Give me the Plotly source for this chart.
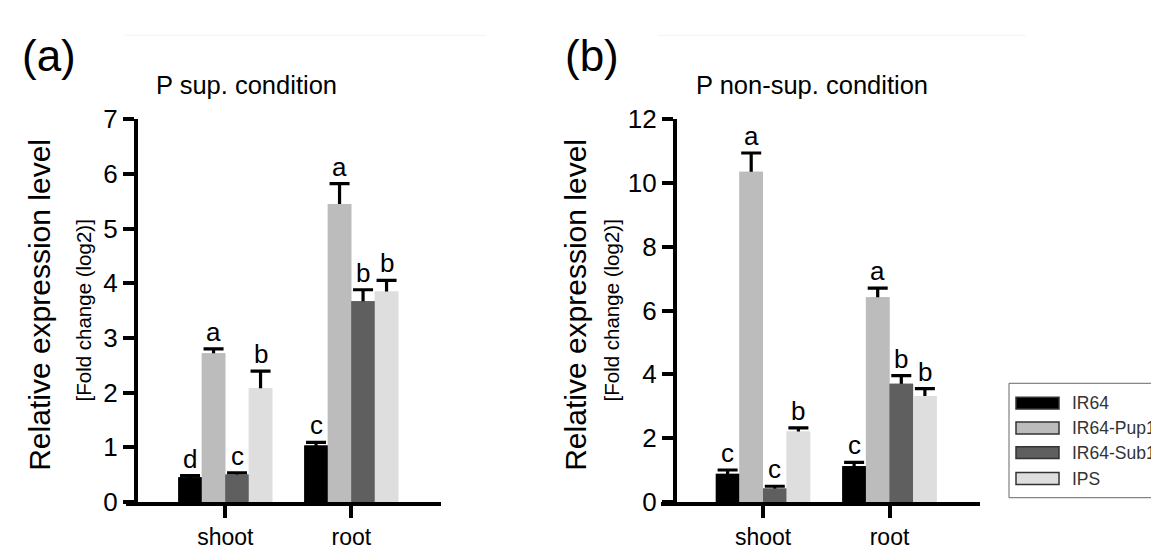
import plotly.graph_objects as go

# ---------------- data ----------------
categories = ["shoot", "root"]
genotypes = ["IR64", "IR64-Pup1", "IR64-Sub1", "IPS"]
colors = ["#000000", "#bcbcbc", "#5f5f5f", "#dedede"]

# (a) P sup. condition
sup_IR64 = [0.45, 1.03]
sup_Pup1 = [2.72, 5.45]
sup_Sub1 = [0.50, 3.67]
sup_IPS = [2.08, 3.85]
sup_err_IR64 = [0.03, 0.06]
sup_err_Pup1 = [0.08, 0.37]
sup_err_Sub1 = [0.03, 0.21]
sup_err_IPS = [0.31, 0.20]
sup_let_IR64 = ["d", "c"]
sup_let_Pup1 = ["a", "a"]
sup_let_Sub1 = ["c", "b"]
sup_let_IPS = ["b", "b"]

# (b) P non-sup. condition
non_IR64 = [0.88, 1.12]
non_Pup1 = [10.35, 6.42]
non_Sub1 = [0.42, 3.70]
non_IPS = [2.21, 3.32]
non_err_IR64 = [0.12, 0.12]
non_err_Pup1 = [0.59, 0.28]
non_err_Sub1 = [0.07, 0.26]
non_err_IPS = [0.11, 0.23]
non_let_IR64 = ["c", "c"]
non_let_Pup1 = ["a", "a"]
non_let_Sub1 = ["c", "b"]
non_let_IPS = ["b", "b"]

y_ticks_a = [0, 1, 2, 3, 4, 5, 6, 7]
y_ticks_b = [0, 2, 4, 6, 8, 10, 12]

panels = [
    dict(vals=[sup_IR64, sup_Pup1, sup_Sub1, sup_IPS],
         errs=[sup_err_IR64, sup_err_Pup1, sup_err_Sub1, sup_err_IPS],
         lets=[sup_let_IR64, sup_let_Pup1, sup_let_Sub1, sup_let_IPS],
         ticks=y_ticks_a, title="P sup. condition", tag="(a)"),
    dict(vals=[non_IR64, non_Pup1, non_Sub1, non_IPS],
         errs=[non_err_IR64, non_err_Pup1, non_err_Sub1, non_err_IPS],
         lets=[non_let_IR64, non_let_Pup1, non_let_Sub1, non_let_IPS],
         ticks=y_ticks_b, title="P non-sup. condition", tag="(b)"),
]

# ---------------- layout geometry (pixels) ----------------
W, H = 1159, 552
FONT = "Arial, Liberation Sans, sans-serif"
def px(x):
    return x / W
def py(y):
    return (H - y) / H

geo = [
    dict(xl=118, xr=433, yaxis_x=127.7, shoot=217.3, step=126.0,
         tag_x=12, title_x=146, big_x=32, small_x=75, line=(117, 478)),
    dict(xl=653, xr=972, yaxis_x=666.7, shoot=755.0, step=126.5,
         tag_x=555, title_x=686, big_x=568, small_x=603, line=(650, 1018)),
]
y_top, y_bot = 101.7, 506.4
bw = 0.1865  # bar width in category units
offsets = [-2 * bw, -bw, 0.0, bw]

fig = go.Figure()
annotations = []
shapes = []

for p, (panel, g) in enumerate(zip(panels, geo)):
    xa = "x" if p == 0 else "x2"
    ya = "y" if p == 0 else "y2"
    ymax = panel["ticks"][-1]
    shoe = 0.012 * ymax  # keeps the lower cap of the error bar inside the bar
    # bars with error bars
    for k in range(4):
        fig.add_trace(go.Bar(
            x=categories, y=panel["vals"][k], name=genotypes[k],
            marker=dict(color=colors[k], line=dict(width=0)),
            width=bw, offset=offsets[k], xaxis=xa, yaxis=ya, showlegend=False,
            error_y=dict(type="data", symmetric=False, array=panel["errs"][k],
                         arrayminus=[shoe] * len(categories),
                         color="#000000", thickness=3.2, width=10),
        ))
    # same bars on top, covering the lower cap
    for k in range(4):
        fig.add_trace(go.Bar(
            x=categories, y=panel["vals"][k], name=genotypes[k],
            marker=dict(color=colors[k], line=dict(width=0)),
            width=bw, offset=offsets[k], xaxis=xa, yaxis=ya, showlegend=False,
            hoverinfo="skip",
        ))
    # significance letters
    for k in range(4):
        for i in range(len(categories)):
            annotations.append(dict(
                x=i + offsets[k] + bw / 2,
                y=panel["vals"][k][i] + panel["errs"][k][i],
                xref=xa, yref=ya, text=panel["lets"][k][i], showarrow=False,
                yanchor="bottom", yshift=0,
                font=dict(family=FONT, size=26, color="#000000")))
    # panel tag and title
    annotations.append(dict(x=px(g["tag_x"]), y=py(34), xref="paper", yref="paper",
                            text=panel["tag"], showarrow=False, xanchor="left",
                            yanchor="middle", font=dict(family=FONT, size=44, color="#000")))
    annotations.append(dict(x=px(g["title_x"]), y=py(66), xref="paper", yref="paper",
                            text=panel["title"], showarrow=False, xanchor="left",
                            yanchor="middle", font=dict(family=FONT, size=25.5, color="#000")))
    # y-axis titles
    annotations.append(dict(x=px(g["big_x"]), y=py(298), xref="paper", yref="paper",
                            text="Relative expression level", textangle=-90, showarrow=False,
                            xanchor="center", yanchor="middle",
                            font=dict(family=FONT, size=30, color="#000")))
    annotations.append(dict(x=px(g["small_x"]), y=py(304), xref="paper", yref="paper",
                            text="[Fold change (log2)]", textangle=-90, showarrow=False,
                            xanchor="center", yanchor="middle",
                            font=dict(family=FONT, size=20.5, color="#000")))
    shapes.append(dict(type="line", xref="paper", yref="paper",
                       x0=px(g["line"][0]), x1=px(g["line"][1]), y0=py(13), y1=py(13),
                       line=dict(color="#f3f3f3", width=1)))

    # axes
    left = (g["xl"] - g["shoot"]) / g["step"]
    right = (g["xr"] - g["shoot"]) / g["step"]
    xkey = "xaxis" if p == 0 else "xaxis2"
    ykey = "yaxis" if p == 0 else "yaxis2"
    fig.layout[xkey] = dict(
        domain=[px(g["xl"]), px(g["xr"])], range=[left, right], type="category",
        anchor=ya, showline=True, linecolor="#000", linewidth=3.5, showgrid=False,
        zeroline=False, ticks="outside", ticklen=12, tickwidth=3.5, tickcolor="#000",
        tickfont=dict(family=FONT, size=23, color="#000"), fixedrange=True)
    fig.layout[ykey] = dict(
        domain=[py(y_bot), py(y_top)], range=[0, ymax], anchor="free",
        position=px(g["yaxis_x"]), showline=True, linecolor="#000", linewidth=3.5,
        showgrid=False, zeroline=False, ticks="outside", ticklen=11, tickwidth=3.5,
        tickcolor="#000", tickvals=panel["ticks"],
        tickfont=dict(family=FONT, size=26, color="#000"), fixedrange=True)

# manual legend (box, swatches, labels)
shapes.append(dict(type="rect", xref="paper", yref="paper",
                   x0=px(1001), x1=px(1158), y0=py(502), y1=py(381),
                   line=dict(color="#666666", width=1), fillcolor="rgba(0,0,0,0)"))
leg_y = [402, 428.3, 454.3, 481.7]
for k in range(4):
    shapes.append(dict(type="rect", xref="paper", yref="paper",
                       x0=px(1008), x1=px(1051), y0=py(leg_y[k] + 6.3), y1=py(leg_y[k] - 6.3),
                       line=dict(color="#333333", width=1.5), fillcolor=colors[k]))
    annotations.append(dict(x=px(1062), y=py(leg_y[k]), xref="paper", yref="paper",
                            text=genotypes[k], showarrow=False, xanchor="left",
                            yanchor="middle", font=dict(family=FONT, size=17.5, color="#333333")))

fig.update_layout(
    width=W, height=H, margin=dict(l=0, r=0, t=0, b=0),
    paper_bgcolor="#ffffff", plot_bgcolor="#ffffff",
    barmode="overlay", showlegend=False,
    annotations=annotations, shapes=shapes,
    font=dict(family=FONT, color="#000"),
)

fig.write_html("out.html")
